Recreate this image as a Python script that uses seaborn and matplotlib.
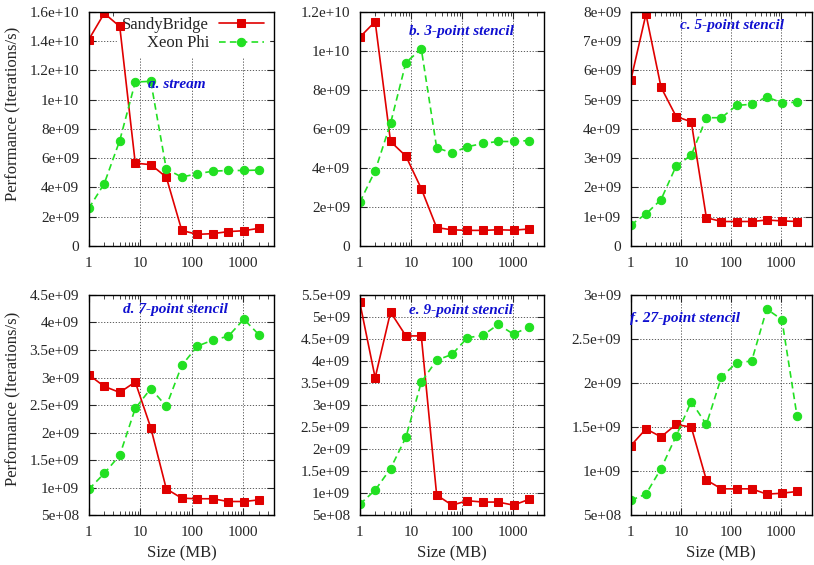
import numpy as np
import pandas as pd
import matplotlib
matplotlib.use('Agg')
import matplotlib.pyplot as plt
import matplotlib.ticker as mticker
import seaborn as sns

# data
sizes = [1, 2, 4, 8, 16, 32, 64, 128, 256, 512, 1024, 2048]

titles = ['a. stream', 'b. 3-point stencil', 'c. 5-point stencil',
          'd. 7-point stencil', 'e. 9-point stencil', 'f. 27-point stencil']

sandy_a = [14.1e9, 15.9e9, 15.0e9, 5.65e9, 5.55e9, 4.7e9, 1.05e9, 0.78e9, 0.83e9, 0.97e9, 1.03e9, 1.2e9]
xeon_a = [2.55e9, 4.25e9, 7.2e9, 11.2e9, 11.25e9, 5.25e9, 4.7e9, 4.93e9, 5.1e9, 5.15e9, 5.15e9, 5.18e9]

sandy_b = [10.7e9, 11.5e9, 5.35e9, 4.6e9, 2.93e9, 0.93e9, 0.82e9, 0.79e9, 0.79e9, 0.82e9, 0.8e9, 0.86e9]
xeon_b = [2.23e9, 3.85e9, 6.28e9, 9.4e9, 10.1e9, 5.03e9, 4.76e9, 5.08e9, 5.25e9, 5.35e9, 5.35e9, 5.4e9]

sandy_c = [5.67e9, 7.92e9, 5.42e9, 4.42e9, 4.24e9, 0.96e9, 0.83e9, 0.83e9, 0.83e9, 0.88e9, 0.85e9, 0.83e9]
xeon_c = [0.71e9, 1.09e9, 1.58e9, 2.73e9, 3.1e9, 4.38e9, 4.38e9, 4.8e9, 4.84e9, 5.09e9, 4.89e9, 4.91e9]

sandy_d = [3.05e9, 2.84e9, 2.73e9, 2.92e9, 2.09e9, 0.98e9, 0.81e9, 0.8e9, 0.8e9, 0.75e9, 0.75e9, 0.78e9]
xeon_d = [0.97e9, 1.26e9, 1.59e9, 2.44e9, 2.8e9, 2.48e9, 3.22e9, 3.57e9, 3.68e9, 3.75e9, 4.06e9, 3.77e9]

sandy_e = [5.33e9, 3.62e9, 5.11e9, 4.57e9, 4.57e9, 0.96e9, 0.73e9, 0.83e9, 0.8e9, 0.8e9, 0.73e9, 0.86e9]
xeon_e = [0.75e9, 1.07e9, 1.56e9, 2.27e9, 3.52e9, 4.02e9, 4.15e9, 4.53e9, 4.58e9, 4.83e9, 4.61e9, 4.77e9]

sandy_f = [1.29e9, 1.48e9, 1.39e9, 1.53e9, 1.5e9, 0.9e9, 0.8e9, 0.8e9, 0.8e9, 0.74e9, 0.75e9, 0.77e9]
xeon_f = [0.67e9, 0.74e9, 1.03e9, 1.4e9, 1.79e9, 1.53e9, 2.07e9, 2.23e9, 2.25e9, 2.84e9, 2.72e9, 1.63e9]

sandy_all = [sandy_a, sandy_b, sandy_c, sandy_d, sandy_e, sandy_f]
xeon_all = [xeon_a, xeon_b, xeon_c, xeon_d, xeon_e, xeon_f]

ylims = [(0, 1.6e10), (0, 1.2e10), (0, 8e9), (5e8, 4.5e9), (5e8, 5.5e9), (5e8, 3e9)]
ysteps = [2e9, 2e9, 1e9, 5e8, 5e8, 5e8]

# panel label placement (axes fraction)
title_pos = [(0.475, 0.69), (0.55, 0.915), (0.56, 0.94), (0.465, 0.935), (0.55, 0.93), (0.30, 0.895)]

sns.set_style('ticks')
plt.rcParams['font.family'] = ['Liberation Serif', 'DejaVu Serif']
plt.rcParams['font.size'] = 11

red = '#e00000'
green = '#22e022'

fig = plt.figure(figsize=(8.14, 5.65), dpi=100)

lefts = [0.109, 0.442, 0.775]
widths = [0.228, 0.226, 0.222]
bottoms = [0.565, 0.088]
heights = [0.414, 0.390]

axes = []
for r in range(2):
    for c in range(3):
        axes.append(fig.add_axes([lefts[c], bottoms[r], widths[c], heights[r]]))

for i, ax in enumerate(axes):
    sns.lineplot(x=sizes, y=sandy_all[i], ax=ax, color=red, marker='s', markersize=6,
                 markeredgecolor=red, linestyle='-', linewidth=1.2, label='SandyBridge')
    sns.lineplot(x=sizes, y=xeon_all[i], ax=ax, color=green, marker='o', markersize=6,
                 markeredgecolor=green, linewidth=1.2, label='Xeon Phi')
    ax.lines[1].set_linestyle((0, (4, 2.5)))
    ax.set_xscale('log')
    ax.set_xlim(1, 4000)
    ax.set_ylim(*ylims[i])
    ax.yaxis.set_major_locator(mticker.MultipleLocator(ysteps[i]))
    ax.yaxis.set_major_formatter(mticker.FuncFormatter(lambda v, p: '%g' % v))
    ax.xaxis.set_major_locator(mticker.LogLocator(base=10, numticks=10))
    ax.xaxis.set_minor_locator(mticker.LogLocator(base=10, subs=np.arange(2, 10), numticks=10))
    ax.xaxis.set_major_formatter(mticker.FuncFormatter(lambda v, p: '%g' % v))
    ax.xaxis.set_minor_formatter(mticker.NullFormatter())
    ax.tick_params(which='both', direction='in', top=True, right=True, labelsize=11)
    ax.tick_params(which='major', length=5)
    ax.tick_params(which='minor', length=3)
    ax.tick_params(axis='x', pad=8)
    ax.tick_params(axis='y', pad=7)
    ax.grid(True, which='major', color='#444444', linestyle=(0, (1.5, 2)), linewidth=0.6)
    for s in ax.spines.values():
        s.set_linewidth(1.0)
        s.set_color('black')
    tx, ty = title_pos[i]
    ax.text(tx, ty, titles[i], transform=ax.transAxes, ha='center', va='center',
            color='#1010d0', fontweight='bold', fontstyle='italic', fontsize=11)
    ax.set_xlabel('Size (MB)' if i >= 3 else '', fontsize=12)
    ax.set_ylabel('Performance (Iterations/s)' if i % 3 == 0 else '', fontsize=12)
    if i == 0:
        leg = ax.legend(loc='upper right', markerfirst=False, frameon=True, fontsize=12,
                        handlelength=2.7, borderaxespad=0.0, borderpad=0.3,
                        labelspacing=0.15, handletextpad=0.6,
                        bbox_to_anchor=(0.97, 1.0))
        leg.get_frame().set_edgecolor('white')
        leg.get_frame().set_facecolor('white')
        leg.get_frame().set_alpha(1.0)
        leg.set_zorder(1.8)
    else:
        ax.get_legend().remove()

axes[0].yaxis.set_label_coords(-0.365, 0.564)
axes[3].yaxis.set_label_coords(-0.365, 0.527)

fig.savefig('out.png', dpi=100)
